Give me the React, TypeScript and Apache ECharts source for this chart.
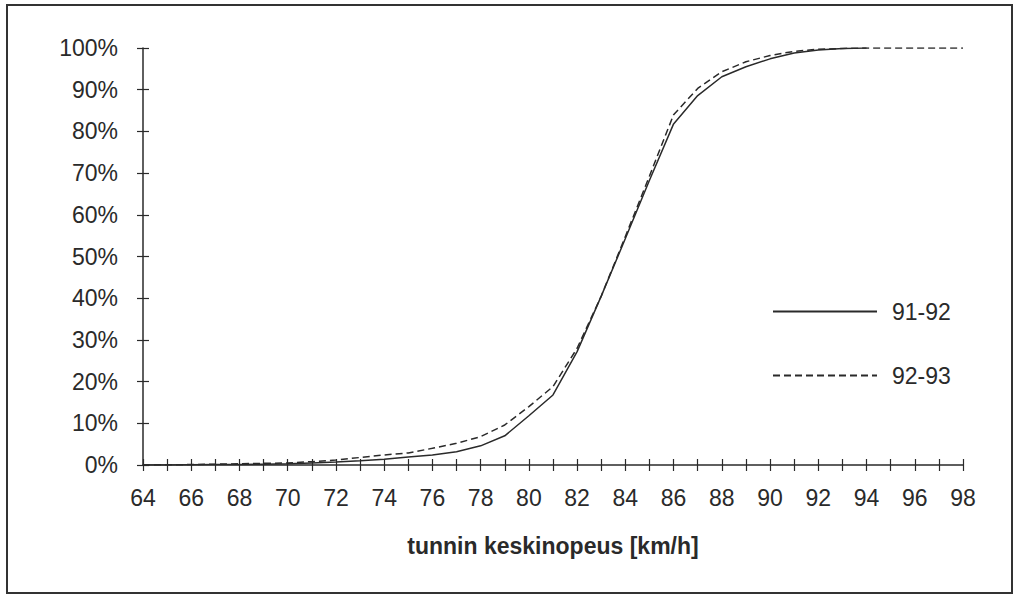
import React, { useEffect, useRef } from "react";
import * as echarts from "echarts";

const speeds = [
  "64", "65", "66", "67", "68", "69", "70", "71", "72", "73", "74", "75",
  "76", "77", "78", "79", "80", "81", "82", "83", "84", "85", "86", "87",
  "88", "89", "90", "91", "92", "93", "94", "95", "96", "97", "98",
];

// 91-92 (solid), 64..94 km/h
const share9192 = [
  0, 0, 0.05, 0.1, 0.1, 0.2, 0.3, 0.5, 0.7, 1.0, 1.4, 1.9,
  2.4, 3.2, 4.6, 7.0, 11.8, 16.8, 27.2, 40.5, 54.3, 68.3, 81.8, 88.6,
  93.1, 95.5, 97.4, 98.8, 99.5, 99.9, 100,
];

// 92-93 (dashed), 64..98 km/h
const share9293 = [
  0, 0.05, 0.1, 0.2, 0.3, 0.4, 0.5, 0.8, 1.2, 1.8, 2.4, 2.9,
  4.0, 5.2, 6.8, 9.6, 14.0, 18.8, 28.0, 40.5, 54.8, 69.3, 84.0, 90.3,
  94.3, 96.7, 98.2, 99.2, 99.7, 99.9, 100, 100, 100, 100, 100,
];

const yTicks = { min: 0, max: 100, interval: 10 };

const FONT = "Liberation Sans, Arial, sans-serif";
const INK = "#2a2a2a";

export default function App() {
  const ref = useRef<HTMLDivElement>(null);

  useEffect(() => {
    if (!ref.current) return;
    const chart = echarts.init(ref.current, null, { renderer: "svg" });
    const baseX = {
      type: "category",
      data: speeds,
      boundaryGap: false,
      position: "bottom",
      axisLine: { show: true, lineStyle: { color: INK, width: 1.5 } },
      splitLine: { show: false },
    };
    const baseY = {
      type: "value",
      min: yTicks.min,
      max: yTicks.max,
      interval: yTicks.interval,
      position: "left",
      axisLine: { show: true, lineStyle: { color: INK, width: 1.5 } },
      splitLine: { show: false },
    };
    chart.setOption({
      animation: false,
      backgroundColor: "#fff",
      grid: { left: 143, right: 57, top: 48, bottom: 131, containLabel: false },
      graphic: [
        {
          type: "rect",
          shape: { x: 7, y: 5, width: 1005, height: 588 },
          style: { fill: "none", stroke: "#333", lineWidth: 2 },
          silent: true,
        },
      ],
      legend: {
        orient: "vertical",
        left: 767,
        top: 295,
        itemWidth: 104,
        itemHeight: 14,
        itemGap: 41,
        itemStyle: { opacity: 0 },
        textStyle: {
          fontFamily: FONT,
          fontSize: 23,
          color: INK,
          padding: [0, 0, 0, 10],
        },
        data: ["91-92", "92-93"],
      },
      xAxis: [
        {
          ...baseX,
          name: "tunnin keskinopeus [km/h]",
          nameLocation: "middle",
          nameGap: 69,
          nameTextStyle: {
            fontFamily: FONT,
            fontSize: 23,
            fontWeight: "bold",
            color: INK,
          },
          axisTick: {
            show: true,
            interval: 0,
            length: 6,
            lineStyle: { color: INK, width: 1.2 },
          },
          axisLabel: {
            interval: 1,
            margin: 21,
            fontFamily: FONT,
            fontSize: 23,
            color: INK,
          },
        },
        {
          ...baseX,
          axisLine: { show: false },
          axisTick: {
            show: true,
            inside: true,
            interval: 0,
            length: 6,
            lineStyle: { color: INK, width: 1.2 },
          },
          axisLabel: { show: false },
        },
      ],
      yAxis: [
        {
          ...baseY,
          axisTick: { show: true, length: 6, lineStyle: { color: INK, width: 1.2 } },
          axisLabel: {
            margin: 25,
            fontFamily: FONT,
            fontSize: 23,
            color: INK,
            formatter: "{value}%",
          },
        },
        {
          ...baseY,
          axisLine: { show: false },
          axisTick: {
            show: true,
            inside: true,
            length: 6,
            lineStyle: { color: INK, width: 1.2 },
          },
          axisLabel: { show: false },
        },
      ],
      series: [
        {
          name: "91-92",
          type: "line",
          xAxisIndex: 0,
          yAxisIndex: 0,
          data: share9192,
          symbol: "none",
          smooth: false,
          lineStyle: { color: INK, width: 1.5, type: "solid" },
          itemStyle: { color: INK },
        },
        {
          name: "92-93",
          type: "line",
          xAxisIndex: 0,
          yAxisIndex: 0,
          data: share9293,
          symbol: "none",
          smooth: false,
          lineStyle: { color: INK, width: 1.5, type: [7, 4] },
          itemStyle: { color: INK },
        },
      ],
    });
    return () => chart.dispose();
  }, []);

  return <div ref={ref} style={{ width: 1020, height: 596, position: "absolute", left: 0, top: 0 }} />;
}
